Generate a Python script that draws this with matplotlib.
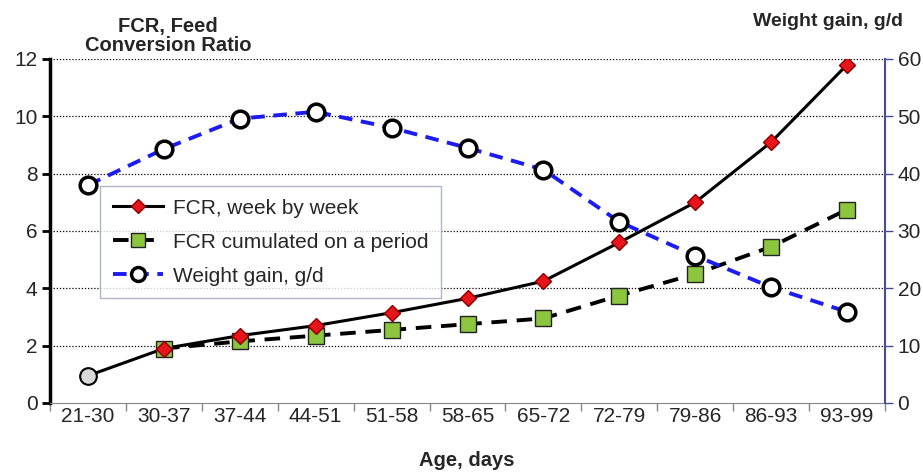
import numpy as np
import matplotlib
matplotlib.use("Agg")
import matplotlib.pyplot as plt
from matplotlib.lines import Line2D

plt.rcParams['font.family'] = ['Liberation Sans', 'DejaVu Sans']

# data
periods = ['21-30', '30-37', '37-44', '44-51', '51-58', '58-65',
           '65-72', '72-79', '79-86', '86-93', '93-99']
fcr_week = [0.95, 1.9, 2.35, 2.7, 3.15, 3.65, 4.25, 5.6, 7.0, 9.1, 11.8]
fcr_cum = [None, 1.9, 2.15, 2.35, 2.55, 2.75, 2.95, 3.75, 4.5, 5.45, 6.75]
weight_gain = [38.0, 44.3, 49.6, 50.8, 48.0, 44.5, 40.7, 31.6, 25.7, 20.2, 15.9]

x = np.arange(len(periods))
txt = '#262626'

fig = plt.figure(figsize=(9.23, 4.72), dpi=100)
ax = fig.add_axes([50 / 923, 69 / 472, 835 / 923, 344 / 472])
ax2 = ax.twinx()

# grid
for g in range(2, 13, 2):
    ax.axhline(g, color='black', lw=0.9, ls=(0, (1, 1.5)), zorder=0)

# FCR week by week
ax.plot(x, fcr_week, color='black', lw=2.2, zorder=3)
ax.plot(x[1:], fcr_week[1:], ls='none', marker='D', ms=8.5, mfc='#e8141c',
        mec='#8a0000', mew=1, zorder=4)
ax.plot(x[:1], fcr_week[:1], ls='none', marker='o', ms=12, mfc='#d9d9d9',
        mec='black', mew=1.5, zorder=4)

# FCR cumulated
ax.plot(x[1:], fcr_cum[1:], color='black', lw=2.8, ls=(0, (4, 2.5)), marker='s',
        ms=11, mfc='#8cc63f', mec='#222222', mew=1, zorder=3)

# weight gain
ax2.plot(x, weight_gain, color='#1c1cf0', lw=2.8, ls=(0, (3.5, 2.2)), zorder=2)
ax2.plot(x, weight_gain, ls='none', marker='o', ms=12, mfc='white',
         mec='black', mew=2.5, zorder=3)

ax.set_xlim(-0.5, len(periods) - 0.5)
ax.set_ylim(0, 12)
ax2.set_ylim(0, 60)
ax.set_yticks(range(0, 13, 2))
ax2.set_yticks(range(0, 61, 10))
ax.set_xticks(x)
ax.set_xticklabels(periods, fontsize=15, color=txt)
ax.set_xticks(np.arange(-0.5, len(periods) + 0.5, 1), minor=True)
ax.tick_params(axis='x', which='major', length=0, pad=3)
ax.tick_params(axis='x', which='minor', length=6, width=1, color='#888888')
ax.tick_params(axis='y', labelsize=15, length=6, width=2, pad=3, labelcolor=txt)
ax2.tick_params(axis='y', labelsize=15, length=6, width=1, color='#4a4a9a', pad=3,
                labelcolor=txt)

for a in (ax, ax2):
    a.spines['top'].set_visible(False)
ax.spines['left'].set_linewidth(2.5)
ax.spines['right'].set_visible(False)
ax.spines['bottom'].set_color('#888888')
ax2.spines['left'].set_visible(False)
ax2.spines['bottom'].set_visible(False)
ax2.spines['right'].set_color('#4a4a9a')
ax2.spines['right'].set_linewidth(1.5)

fig.text(168 / 923, 1 - 36 / 472, 'FCR, Feed\nConversion Ratio', ha='center',
         va='center', fontsize=14.5, fontweight='bold', color=txt,
         linespacing=1.05, bbox=dict(fc='white', ec='none', pad=2))
fig.text(828 / 923, 1 - 22 / 472, 'Weight gain, g/d', ha='center', va='center',
         fontsize=14, fontweight='bold', color=txt)
fig.text(467 / 923, 1 - 461 / 472, 'Age, days', ha='center', va='center',
         fontsize=14.5, fontweight='bold', color=txt)

handles = [
    Line2D([], [], color='black', lw=2.2, marker='D', ms=7.5, mfc='#e8141c', mec='#8a0000'),
    Line2D([], [], color='black', lw=2.8, ls=(0, (4, 2.5)), marker='s', ms=10,
           mfc='#8cc63f', mec='#222222'),
    Line2D([], [], color='#1c1cf0', lw=2.8, ls=(0, (3.5, 2.2)), marker='o', ms=10,
           mfc='white', mec='black', mew=2.5),
]
labels = ['FCR, week by week', 'FCR cumulated on a period', 'Weight gain, g/d']
leg = ax2.legend(handles, labels, loc='lower left', bbox_to_anchor=(0.06, 0.305),
                 fontsize=15, frameon=True, fancybox=False, edgecolor='#9aa5b5',
                 handlelength=2.4, handletextpad=0.5, labelspacing=0.72,
                 borderpad=0.6, borderaxespad=0)
leg.get_frame().set_linewidth(1)
for t in leg.get_texts():
    t.set_color(txt)

fig.savefig('out.png', dpi=100)
